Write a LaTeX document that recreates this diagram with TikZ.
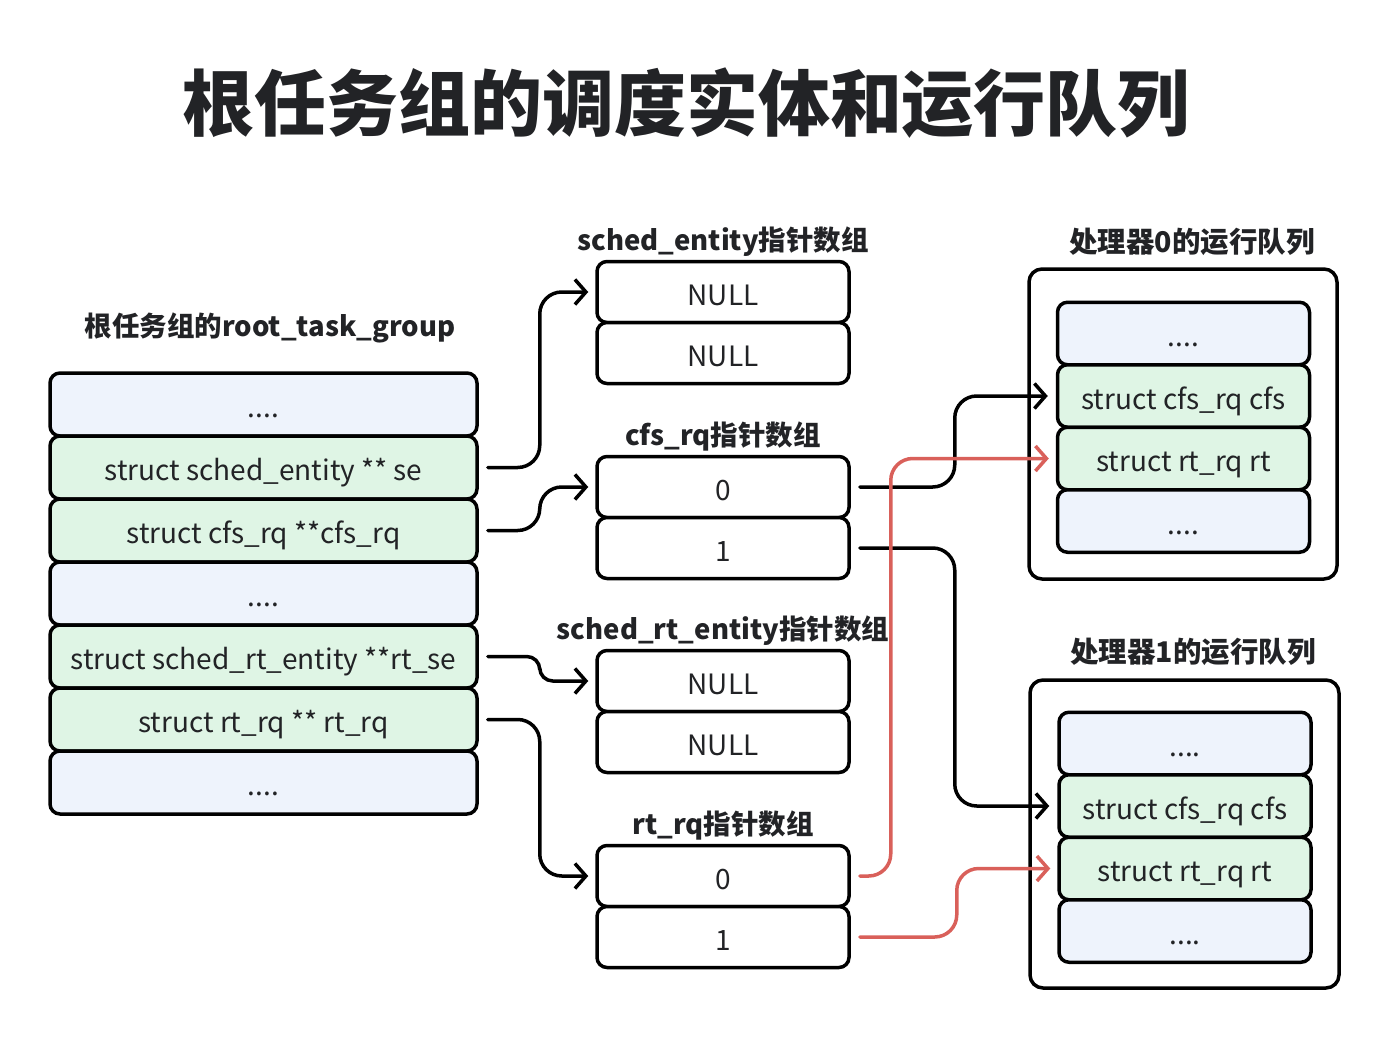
\documentclass[tikz,border=0pt]{standalone}
\usepackage{fontspec}
\setmainfont{Noto Sans CJK SC}
\usetikzlibrary{arrows.meta}
\definecolor{txt}{HTML}{222326}
\definecolor{lav}{HTML}{EEF3FC}
\definecolor{grn}{HTML}{DFF5E5}
\definecolor{redl}{HTML}{D9605A}
\tikzset{
  cell/.style={draw=black, line width=3.5pt, rounded corners=10pt, inner sep=0pt,
    text=txt, font=\fontsize{28}{32}\selectfont, text height=30pt, text depth=4pt},
  lrow/.style={cell, minimum width=427pt, minimum height=63pt},
  mrow/.style={cell, fill=white, minimum width=252pt, minimum height=61pt},
  rrow/.style={cell, minimum width=252pt, minimum height=62.5pt},
  dots/.style={fill=lav},
  gr/.style={fill=grn},
  ttl/.style={text=txt, font=\fontsize{27.5}{30}\selectfont\bfseries, inner sep=0pt},
  panel/.style={draw=black, line width=3.5pt, rounded corners=13pt, inner sep=0pt},
  conn/.style={line width=3.5pt, rounded corners=22pt, line cap=round,
    -{Straight Barb[length=11pt,width=25pt,line width=3.5pt]}},
}
\begin{document}
\begin{tikzpicture}[x=1pt,y=-1pt]
\useasboundingbox (0,0) rectangle (1390,1038);
\node[text=txt, font=\fontsize{72}{80}\selectfont\bfseries, inner sep=0pt] (title) at (686,103) {根任务组的调度实体和运行队列};

% left stack
\node[ttl] (lt) at (270,328) {根任务组的root\_task\_group};
\node[lrow,dots] (l1) at (263.5,404.5) {....};
\node[lrow,gr] (l2) at (263.5,467.5) {struct sched\_entity ** se};
\node[lrow,gr] (l3) at (263.5,530.5) {struct cfs\_rq **cfs\_rq};
\node[lrow,dots] (l4) at (263.5,593.5) {....};
\node[lrow,gr] (l5) at (263.5,656.5) {struct sched\_rt\_entity **rt\_se};
\node[lrow,gr] (l6) at (263.5,719.5) {struct rt\_rq ** rt\_rq};
\node[lrow,dots] (l7) at (263.5,782.5) {....};

% middle arrays
\node[ttl] (t1) at (723,242) {sched\_entity指针数组};
\node[mrow] (a1) at (723,292) {NULL};
\node[mrow] (a2) at (723,353) {NULL};
\node[ttl] (t2) at (723,437) {cfs\_rq指针数组};
\node[mrow] (b1) at (723,487) {0};
\node[mrow] (b2) at (723,548) {1};
\node[ttl] (t3) at (723,631) {sched\_rt\_entity指针数组};
\node[mrow] (c1) at (723,681) {NULL};
\node[mrow] (c2) at (723,742) {NULL};
\node[ttl] (t4) at (723,826) {rt\_rq指针数组};
\node[mrow] (d1) at (723,876) {0};
\node[mrow] (d2) at (723,937) {1};

% right panels
\node[ttl, font=\fontsize{28.5}{30}\selectfont\bfseries] (p0t) at (1192,242) {处理器0的运行队列};
\node[panel, minimum width=308pt, minimum height=310pt] (p0) at (1183,424) {};
\node[rrow,dots] (p01) at (1183.5,333.5) {....};
\node[rrow,gr] (p02) at (1183.5,396) {struct cfs\_rq cfs};
\node[rrow,gr] (p03) at (1183.5,458.5) {struct rt\_rq rt};
\node[rrow,dots] (p04) at (1183.5,521) {....};

\node[ttl, font=\fontsize{28.5}{30}\selectfont\bfseries] (p1t) at (1193,652) {处理器1的运行队列};
\node[panel, minimum width=309pt, minimum height=308pt] (p1) at (1184.5,834) {};
\node[rrow,dots] (p11) at (1185,743.5) {....};
\node[rrow,gr] (p12) at (1185,806) {struct cfs\_rq cfs};
\node[rrow,gr] (p13) at (1185,868.5) {struct rt\_rq rt};
\node[rrow,dots] (p14) at (1185,931) {....};

% connectors
\draw[conn] ([xshift=9pt]l2.east) -- ++(52,0) |- ([xshift=-7pt]a1.west);
\draw[conn] ([xshift=9pt]l3.east) -- ++(52,0) |- ([xshift=-7pt]b1.west);
\draw[conn, rounded corners=13pt] ([xshift=9pt]l5.east) -- ++(52,0) |- ([xshift=-7pt]c1.west);
\draw[conn] ([xshift=9pt]l6.east) -- ++(52,0) |- ([xshift=-7pt]d1.west);
\draw[conn] ([xshift=9pt]b1.east) -- ++(95,0) |- ([xshift=-8pt]p02.west);
\draw[conn] ([xshift=9pt]b2.east) -- ++(95,0) |- ([xshift=-8pt]p12.west);
\draw[conn, draw=redl] ([xshift=9pt]d1.east) -- ++(31,0) |- ([xshift=-7pt]p03.west);
\draw[conn, draw=redl] ([xshift=9pt]d2.east) -- ++(97,0) |- ([xshift=-7pt]p13.west);
\end{tikzpicture}
\end{document}
